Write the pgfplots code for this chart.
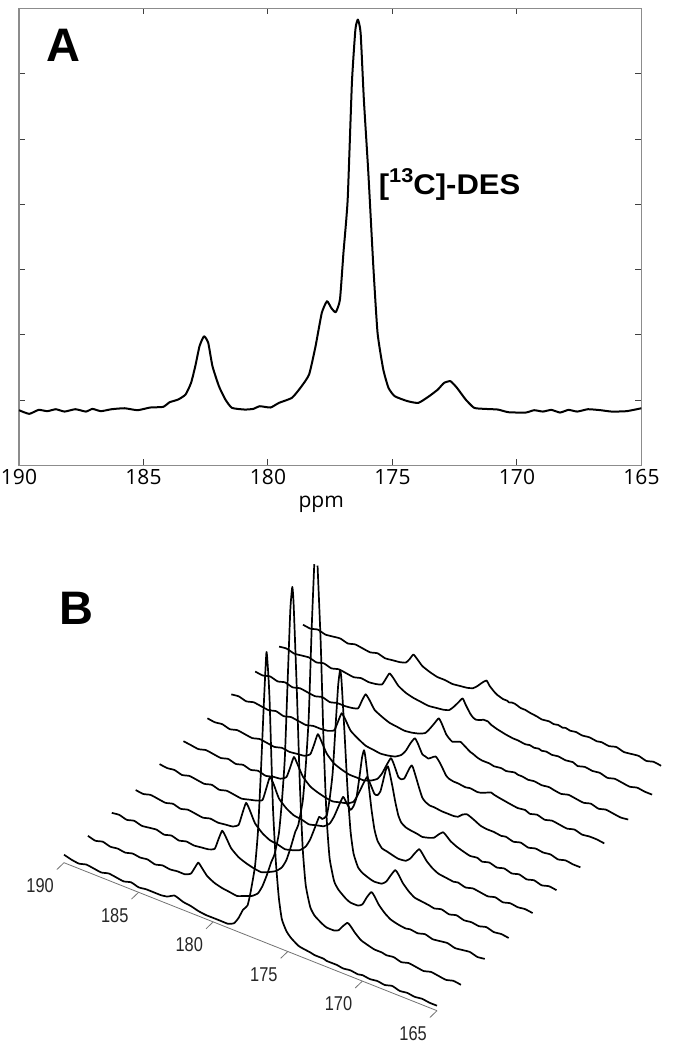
\documentclass[border=0pt]{standalone}
\usepackage{pgfplots}
\pgfplotsset{compat=1.18}
\usepackage{pgfplotstable}
\usepackage{fontspec}
\setmainfont{Liberation Sans}
\newfontfamily\labelfont{Open Sans}

% panel B: ppm, then one intensity column per spectrum (front to back)
\pgfplotstableread{
ppm t0 t1 t2 t3 t4 t5 t6 t7 t8 t9 t10
190.0 8 4 4 4 7 7 7 8 8 10 9
189.5 6 2 5 3 6 6 6 9 7 11 8
189.0 5 4 3 5 7 5 7 7 9 9 10
188.5 7 2 5 4 5 7 5 9 7 10 8
188.0 6 3 3 3 7 6 7 8 9 11 9
187.5 5 2 4 5 6 5 6 7 7 9 10
187.0 7 4 5 3 5 7 5 9 9 11 8
186.5 6 3 3 5 7 5 7 7 8 9 10
186.0 5 4 5 4 5 7 6 9 7 11 9
185.5 7 2 3 3 7 5 5 8 9 10 8
185.0 5 4 5 5 6 7 7 7 7 9 10
184.5 6 3 4 4 5 5 6 9 9 11 8
184.0 6 4 5 5 7 7 7 9 9 10 9
183.5 6 4 6 6 9 8 8 10 10 11 10
183.1 7 7 9 10 12 12 12 13 12 13 12
182.85 9 14 20 23 25 23 23 23 21 20 17
182.6 11 21 30 35 38 35 35 33 29 27 23
182.35 10 17 25 29 32 29 29 28 25 24 20
182.0 8 11 16 18 20 19 19 19 17 18 15
181.5 7 7 10 11 13 12 12 14 13 14 12
181.0 5 5 7 7 9 9 9 10 10 12 10
180.5 4 4 5 6 8 7 7 9 9 11 10
180.0 4 3 4 4 6 6 7 8 8 10 9
179.5 4 6 7 6 8 8 7 9 9 11 10
179.0 4 9 11 9 10 10 10 11 11 12 11
178.6 7 14 17 15 15 14 14 15 14 14 13
178.3 14 23 26 24 24 23 21 21 20 19 17
178.0 24 36 41 37 36 34 31 30 27 25 22
177.7 30 51 58 50 47 44 40 37 34 31 26
177.5 44 59 66 49 43 39 35 33 30 26 22
177.2 72 82 92 54 37 30 24 24 21 19 18
177.0 108 115 128 72 42 30 23 23 18 16 16
176.8 170 160 178 99 52 35 25 22 16 15 15
176.6 240 243 269 148 74 48 32 24 17 16 14
176.43 291 311 333 189 94 59 38 26 18 17 14
176.3 268 334 nan 205 102 63 41 27 19 18 14
176.21 240 317 333 196 96 59 39 26 19 18 13
176.0 140 234 258 143 71 45 30 22 17 18 14
175.8 85 142 157 88 46 30 21 17 15 16 14
175.6 50 76 84 48 27 18 13 12 13 15 13
175.4 30 41 45 27 17 12 10 10 12 14 12
175.1 20 21 24 15 11 9 8 9 10 13 12
174.8 15 14 17 11 10 8 8 9 9 12 11
174.3 10 9 11 8 8 7 7 8 9 11 10
174.0 9 7 9 7 7 6 7 9 8 11 9
173.5 8 7 9 8 8 8 7 8 9 10 10
173.2 7 9 12 12 12 10 8 9 8 11 9
172.9 7 15 21 20 19 15 12 11 9 10 10
172.6 7 20 28 27 25 19 14 13 10 11 9
172.4 6 18 25 24 22 17 13 12 9 10 10
172.1 6 13 18 17 16 13 11 11 9 11 9
171.7 6 8 12 11 11 10 8 10 8 10 10
171.3 5 6 8 7 8 8 7 9 9 11 9
170.8 6 4 6 6 7 6 7 8 8 10 10
170.3 5 4 5 5 6 7 6 9 9 11 9
170.0 6 3 6 4 7 5 7 7 8 9 10
169.5 5 4 5 6 5 7 5 9 7 11 9
169.0 6 2 7 4 7 5 7 7 9 10 11
168.5 5 4 5 6 6 7 5 9 8 11 9
168.0 7 3 6 4 5 5 7 8 7 9 10
167.5 5 2 7 5 7 7 6 7 9 11 11
167.0 6 4 5 4 5 5 7 9 7 10 9
166.5 5 3 6 6 7 7 5 7 9 9 11
166.0 6 2 7 4 6 5 7 8 8 11 10
165.5 5 4 5 5 7 7 6 8 7 10 nan
165.0 5 3 6 4 6 6 6 7 8 10 nan
}\specB

\begin{document}
\begin{tikzpicture}[x=1pt,y=1pt]
\path[use as bounding box] (0,0) rectangle (673,1050);

\begin{axis}[
  at={(19pt,584.5pt)}, anchor=south west,
  width=622.5pt, height=457pt, scale only axis,
  xmin=165, xmax=190, ymin=-1, ymax=6,
  x dir=reverse,
  xtick={165,170,...,190},
  ytick={-1,0,...,6}, yticklabels={},
  tick align=inside, major tick length=6pt,
  axis line style={black!45,line width=1.2pt},
  tick style={black!75,line width=1pt},
  xticklabel style={font=\labelfont\fontsize{21}{23}\selectfont,yshift=0pt},
  /pgf/number format/assume math mode=true,
  xlabel={\labelfont\fontsize{21}{23}\selectfont ppm},
  every axis x label/.style={at={(axis description cs:0.4855,-0.086)},anchor=center},
]
\addplot[black,line width=2pt,line join=round,smooth,tension=0.3] coordinates {
(190.00,-0.153)(189.59,-0.209)(189.21,-0.148)(188.86,-0.168)(188.52,-0.138)
(188.17,-0.174)(187.74,-0.138)(187.31,-0.174)(187.05,-0.133)(186.71,-0.168)
(186.28,-0.138)(185.76,-0.123)(185.24,-0.153)(184.73,-0.112)(184.21,-0.102)
(183.95,-0.031)(183.61,0.010)(183.31,0.087)(183.09,0.265)(182.92,0.521)
(182.75,0.827)(182.57,0.980)(182.40,0.878)(182.23,0.521)(181.97,0.214)
(181.71,0.010)(181.45,-0.117)(180.94,-0.143)(180.59,-0.133)(180.33,-0.092)
(179.90,-0.112)(179.56,-0.041)(179.04,0.036)(178.70,0.189)(178.35,0.393)
(178.09,0.827)(177.84,1.337)(177.63,1.516)(177.46,1.414)(177.28,1.348)
(177.11,1.542)(176.97,2.256)(176.80,3.073)(176.63,4.860)(176.49,5.677)
(176.39,5.830)(176.28,5.626)(176.15,4.605)(175.97,3.482)(175.77,2.052)
(175.60,1.031)(175.37,0.470)(175.16,0.189)(174.91,0.061)(174.39,-0.015)
(173.96,-0.041)(173.53,0.061)(173.18,0.163)(172.93,0.265)(172.67,0.291)
(172.41,0.189)(172.06,0.010)(171.72,-0.117)(171.29,-0.133)(170.77,-0.143)
(170.34,-0.184)(169.65,-0.189)(169.31,-0.153)(168.96,-0.174)(168.62,-0.148)
(168.27,-0.189)(167.93,-0.148)(167.58,-0.174)(167.15,-0.138)(166.64,-0.153)
(166.20,-0.174)(165.60,-0.168)(165.00,-0.123)
};
\end{axis}

\node[font=\bfseries\fontsize{47}{47}\selectfont] at (63,1005) {A};
\node[anchor=west,xscale=1.09,font=\bfseries\fontsize{28.5}{30}\selectfont] at (375,866) {[\raisebox{0.42em}{\fontsize{20}{20}\selectfont 13}C]-DES};

\begin{axis}[
  at={(64pt,39.3pt)}, anchor=south west,
  x={(-14.92pt,5.92pt)}, y={(23.9pt,22.9pt)}, z={(0pt,1pt)},
  xmin=165, xmax=190, ymin=0, ymax=10, zmin=0, zmax=340,
  hide axis, clip=false,
  unbounded coords=jump,
]
\pgfplotsinvokeforeach{0,...,10}{
  \addplot3[black,line width=1.7pt,line join=round,no marks,smooth,tension=0.3]
    table[x=ppm,y expr=#1,z=t#1] {\specB};
}
\addplot3[black!55,line width=0.8pt] coordinates {(190,0,0)(165,0,0)};
\pgfplotsinvokeforeach{190,185,180,175,170,165}{
  \addplot3[black!55,line width=0.8pt] coordinates {(#1,0,0)(#1,-0.3,0)};
  \node[font=\fontsize{20}{20}\selectfont,xscale=0.82,black!85] at (axis cs:#1,-1,0) {#1};
}
\end{axis}

\node[font=\bfseries\fontsize{47}{47}\selectfont] at (76.5,442) {B};
\end{tikzpicture}
\end{document}
